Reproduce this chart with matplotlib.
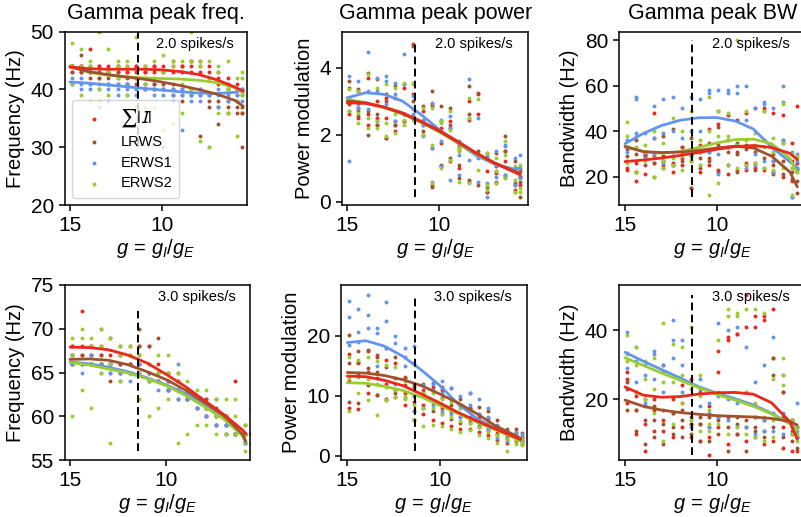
import numpy as np
import matplotlib
matplotlib.use('Agg')
import matplotlib.pyplot as plt

plt.rcParams['font.family'] = ['Liberation Sans', 'DejaVu Sans']
plt.rcParams['mathtext.fontset'] = 'custom'
plt.rcParams['mathtext.rm'] = 'Liberation Sans'
plt.rcParams['mathtext.it'] = 'Liberation Sans:italic'

series_names = [r'$\sum|I|$', 'LRWS', 'ERWS1', 'ERWS2']
colors = ['#e8291c', '#a0522d', '#6495ed', '#9acd32']

# g values of the scatter columns
g_cols = [14.9, 14.4, 13.9, 13.4, 12.9, 12.4, 11.9, 11.4, 10.9, 10.4,
          9.9, 9.4, 8.9, 8.4, 7.9, 7.4, 6.9, 6.4, 5.9, 5.6]

# ---- Gamma peak freq, 2.0 spikes/s ----
freq2_pts = [
    [[44, 44, 47, 44, 43, 44, 43, 44, 43, 44, 43, 45, 44, 45, 45, 44, 43, 42, 40, 36],
     [43, 44, 44, 43, 44, 43, 44, 43, 44, 43, 44, 44, 43, 44, 43, 43, 42, 41, 39, 40],
     [44, 43, 43, 44, 43, 44, 43, 44, 43, 44, 43, 43, 44, 43, 44, 42, 41, 40, 41, 39]],
    [[44, 46, 43, 42, 43, 42, 41, 42, 41, 41, 40, 40, 39, 45, 40, 38, 34, 38, 37, 30],
     [43, 44, 42, 43, 42, 41, 42, 41, 42, 40, 41, 39, 40, 39, 32, 39, 38, 37, 36, 36],
     [44, 43, 43, 42, 41, 43, 41, 42, 40, 41, 40, 41, 38, 40, 39, 37, 37, 36, 38, 37]],
    [[41, 41, 41, 37, 38, 40, 40, 40, 40, 40, 39, 38, 33, 39, 39, 30, 37, 39, 40, 38],
     [42, 42, 40, 41, 41, 41, 39, 40, 41, 39, 30, 40, 40, 39, 38, 39, 40, 40, 39, 40],
     [41, 40, 41, 40, 40, 39, 41, 39, 40, 40, 40, 39, 39, 38, 40, 39, 39, 38, 40, 40]],
    [[48, 47, 44, 50, 47, 45, 45, 49, 44, 45, 46, 45, 45, 50, 45, 45, 44, 45, 42, 43],
     [44, 44, 45, 40, 43, 42, 39, 42, 41, 42, 43, 34, 41, 40, 44, 42, 36, 40, 38, 42],
     [41, 39, 38, 38, 39, 44, 44, 37, 37, 37, 33, 44, 36, 45, 31, 30, 43, 36, 32, 39]],
]
freq2_fit = [
    [43.9, 43.6, 43.5, 43.5, 43.5, 43.4, 43.1, 42.6, 41.7, 40.4, 39.7],
    [43.9, 43.1, 42.6, 42.2, 41.8, 41.3, 40.7, 40.0, 39.2, 38.1, 37.1],
    [41.3, 41.1, 40.8, 40.5, 40.2, 39.9, 39.6, 39.4, 39.3, 39.5, 39.9],
    [44.1, 43.0, 42.5, 42.2, 42.0, 41.9, 41.8, 41.6, 41.2, 40.3, 39.4],
]

# ---- Gamma peak power, 2.0 spikes/s ----
power2_pts = [
    [[3.4, 3.3, 3.7, 3.0, 3.1, 2.3, 3.4, 4.7, 2.3, 2.9, 1.75, 2.4, 1.5, 3.0, 3.2, 1.3, 1.05, 1.5, 0.95, 0.9],
     [2.9, 2.8, 2.6, 2.5, 2.5, 3.1, 2.6, 2.55, 2.0, 1.6, 1.05, 2.2, 1.0, 2.45, 1.35, 0.3, 0.85, 1.2, 0.5, 0.75],
     [2.6, 2.5, 2.3, 2.3, 1.9, 2.1, 2.4, 3.2, 2.7, 0.5, 2.2, 1.2, 1.6, 0.6, 2.6, 0.9, 0.55, 0.8, 0.35, 0.5]],
    [[3.6, 3.35, 3.85, 3.65, 3.2, 3.45, 3.5, 4.65, 2.4, 3.3, 2.85, 2.8, 1.7, 3.45, 3.25, 1.45, 1.45, 1.95, 1.2, 0.75],
     [2.95, 2.7, 2.7, 2.6, 3.0, 2.4, 2.6, 2.5, 2.1, 2.85, 1.1, 2.3, 1.1, 2.6, 1.5, 0.45, 0.9, 1.5, 0.55, 0.15],
     [2.7, 2.55, 2.0, 2.3, 1.9, 2.3, 2.4, 3.0, 2.85, 0.45, 2.4, 1.3, 0.7, 0.65, 0.5, 0.3, 0.6, 0.75, 0.3, 0.6]],
    [[3.75, 3.6, 4.45, 3.7, 3.75, 3.55, 4.4, 3.15, 2.45, 2.95, 2.45, 2.55, 1.8, 3.65, 2.5, 1.35, 1.5, 1.65, 1.3, 1.4],
     [3.1, 2.9, 3.3, 3.3, 3.6, 3.2, 3.5, 2.75, 2.3, 1.6, 1.8, 2.2, 1.4, 2.5, 1.3, 0.55, 1.1, 1.7, 0.95, 1.0],
     [1.2, 2.8, 2.75, 2.4, 2.9, 2.4, 2.6, 2.6, 1.95, 0.6, 1.05, 0.65, 0.8, 1.25, 0.6, 0.15, 0.75, 0.8, 0.5, 0.7]],
    [[3.35, 3.3, 3.8, 3.4, 3.5, 3.4, 3.55, 3.55, 2.35, 2.8, 2.35, 2.7, 1.6, 3.1, 3.05, 1.45, 1.3, 1.8, 1.05, 1.1],
     [3.0, 2.65, 2.5, 2.4, 2.35, 2.6, 2.45, 2.45, 2.0, 1.7, 1.0, 2.15, 0.6, 2.5, 1.4, 0.5, 0.9, 1.4, 0.65, 0.4],
     [2.7, 2.35, 2.2, 2.2, 1.95, 2.05, 2.3, 3.5, 2.8, 0.55, 2.4, 1.25, 1.5, 0.55, 0.95, 0.35, 0.55, 0.7, 0.3, 0.3]],
]
power2_fit = [
    [2.95, 2.93, 2.82, 2.65, 2.4, 2.12, 1.8, 1.45, 1.15, 0.9, 0.8],
    [3.0, 2.95, 2.82, 2.63, 2.38, 2.1, 1.78, 1.45, 1.16, 0.93, 0.84],
    [3.1, 3.25, 3.2, 3.0, 2.6, 2.15, 1.75, 1.38, 1.12, 0.98, 1.0],
    [3.05, 2.95, 2.8, 2.62, 2.37, 2.08, 1.75, 1.42, 1.14, 0.93, 0.85],
]

# ---- Gamma peak BW, 2.0 spikes/s ----
bw2_pts = [
    [[27, 26, 30, 48, 29, 25, 33, 30, 31, 35, 49, 47, 45, 48, 50, 50, 48, 47, 35, 51],
     [24, 18, 29, 29, 27, 26, 28, 27, 34, 41, 43, 33, 31, 26, 26, 49, 27, 35, 27, 26],
     [23, 22, 21, 26, 25, 22, 25, 15, 22, 25, 23, 21, 23, 23, 24, 23, 22, 20, 18, 23]],
    [[33, 36, 30, 37, 38, 41, 33, 37, 31, 31, 42, 36, 35, 34, 33, 36, 30, 36, 22, 24],
     [32, 30, 29, 26, 27, 29, 31, 29, 28, 28, 34, 31, 30, 32, 31, 28, 25, 27, 19, 18],
     [29, 22, 25, 20, 24, 25, 27, 15, 24, 27, 22, 25, 22, 25, 23, 24, 21, 21, 11, 13]],
    [[36, 55, 39, 51, 54, 55, 50, 55, 54, 58, 58, 58, 60, 60, 50, 53, 50, 60, 31, 30],
     [33, 54, 31, 37, 39, 40, 37, 40, 40, 57, 30, 57, 57, 45, 30, 52, 27, 53, 24, 27],
     [31, 39, 28, 30, 26, 29, 30, 30, 25, 31, 21, 25, 34, 24, 25, 27, 22, 36, 11, 24]],
    [[44, 38, 34, 40, 35, 46, 40, 49, 36, 55, 49, 48, 80, 49, 39, 49, 37, 52, 30, 29],
     [38, 33, 31, 28, 27, 28, 29, 28, 31, 40, 38, 38, 34, 36, 34, 33, 31, 35, 24, 28],
     [26, 22, 27, 20, 24, 25, 23, 27, 25, 12, 17, 25, 24, 25, 26, 24, 23, 24, 12, 22]],
]
bw2_fit = [
    [26.6, 27.3, 28.2, 29.3, 30.6, 32.0, 33.2, 33.7, 32.8, 30.2, 27.5],
    [33.2, 31.0, 30.6, 30.8, 31.5, 32.6, 33.4, 32.6, 29.0, 22.0, 15.5],
    [34.5, 39.0, 42.5, 44.8, 45.9, 46.0, 44.5, 41.0, 33.0, 26.5, 24.0],
    [33.5, 31.0, 30.3, 31.0, 32.8, 34.8, 36.3, 36.5, 34.5, 28.0, 21.5],
]

# ---- Gamma peak freq, 3.0 spikes/s ----
freq3_pts = [
    [[68, 72, 68, 67, 69, 67, 68, 68, 68, 66, 65, 64, 63, 62, 62, 61, 60, 64, 59, 58],
     [67, 68, 68, 66, 67, 66, 66, 66, 65, 65, 64, 65, 62, 62, 61, 60, 59, 59, 58, 57],
     [68, 67, 67, 68, 66, 67, 66, 67, 66, 64, 63, 63, 63, 61, 60, 59, 60, 58, 58, 58]],
    [[67, 66, 67, 66, 64, 68, 66, 70, 68, 69, 65, 63, 63, 62, 62, 62, 60, 59, 58, 57],
     [66, 67, 66, 67, 66, 65, 67, 68, 64, 65, 64, 64, 62, 61, 60, 60, 59, 58, 57, 57],
     [66, 66, 66, 66, 65, 66, 65, 66, 65, 64, 63, 62, 62, 62, 61, 59, 58, 58, 58, 56]],
    [[66, 66, 67, 70, 66, 65, 65, 66, 65, 63, 64, 66, 63, 62, 61, 60, 59, 58, 57, 57],
     [66, 66, 66, 66, 66, 65, 65, 65, 64, 64, 63, 63, 62, 61, 61, 60, 59, 58, 58, 57],
     [67, 65, 66, 65, 65, 64, 64, 65, 64, 64, 63, 62, 62, 61, 60, 59, 58, 58, 57, 56]],
    [[69, 70, 69, 70, 69, 68, 68, 67, 66, 67, 67, 65, 64, 63, 63, 62, 62, 62, 59, 61],
     [67, 69, 68, 68, 66, 67, 67, 65, 64, 65, 65, 64, 63, 62, 61, 60, 60, 60, 58, 57],
     [60, 63, 61, 65, 57, 64, 65, 62, 60, 61, 62, 57, 58, 59, 59, 58, 58, 58, 56, 56]],
]
freq3_fit = [
    [67.9, 67.85, 67.6, 67.0, 66.1, 64.8, 63.4, 61.8, 60.2, 58.4, 58.0],
    [66.5, 66.55, 66.4, 65.9, 65.1, 64.2, 63.0, 61.6, 60.1, 57.9, 57.1],
    [66.2, 66.0, 65.6, 65.1, 64.4, 63.6, 62.6, 61.3, 59.9, 57.8, 57.0],
    [66.15, 65.85, 65.4, 64.95, 64.3, 63.5, 62.4, 61.1, 59.7, 57.7, 56.9],
]

# ---- Gamma peak power, 3.0 spikes/s ----
power3_pts = [
    [[17.0, 15.5, 17.5, 16.5, 16.0, 15.5, 13.0, 11.5, 11.0, 11.5, 11.0, 9.5, 8.5, 8.0, 6.5, 6.0, 5.0, 4.2, 3.8, 3.0],
     [12.5, 13.5, 14.0, 13.0, 12.0, 11.0, 10.5, 9.0, 8.5, 9.0, 8.0, 7.5, 6.5, 6.0, 5.0, 4.5, 3.8, 3.3, 3.0, 2.6],
     [8.0, 7.8, 10.5, 10.2, 9.5, 9.8, 8.5, 6.0, 7.0, 6.0, 5.5, 5.0, 4.5, 4.5, 4.0, 3.5, 2.6, 2.2, 2.4, 2.0]],
    [[20.2, 17.5, 17.7, 16.8, 18.0, 16.5, 13.2, 12.0, 12.0, 12.2, 11.5, 11.3, 9.5, 10.5, 8.2, 7.5, 6.0, 4.4, 4.5, 3.8],
     [15.5, 15.7, 14.6, 14.0, 14.8, 13.0, 11.8, 10.0, 10.5, 10.8, 9.7, 8.5, 8.5, 8.0, 7.0, 6.3, 5.0, 3.8, 3.6, 3.2],
     [9.0, 8.8, 11.8, 10.2, 9.3, 10.5, 9.7, 7.5, 8.0, 7.5, 7.0, 6.2, 5.5, 5.5, 4.8, 4.2, 3.4, 2.8, 2.8, 2.4]],
    [[25.8, 24.5, 26.8, 20.5, 25.7, 20.0, 18.0, 18.3, 11.8, 12.0, 12.4, 11.3, 10.0, 10.5, 9.5, 8.0, 5.2, 4.2, 4.0, 3.7],
     [23.2, 20.7, 23.5, 21.3, 22.5, 18.8, 16.5, 15.5, 10.2, 11.0, 10.5, 9.5, 8.0, 8.5, 7.0, 6.5, 4.5, 3.4, 3.5, 3.0],
     [18.5, 19.0, 21.3, 15.0, 18.0, 12.0, 15.0, 7.5, 8.0, 8.5, 7.5, 7.0, 6.5, 6.5, 5.5, 4.5, 3.0, 2.5, 2.8, 2.3]],
    [[16.5, 16.0, 16.5, 15.8, 15.2, 14.8, 12.5, 11.0, 10.5, 10.5, 9.5, 9.0, 8.0, 7.5, 6.0, 5.5, 4.5, 3.8, 3.5, 2.8],
     [13.0, 13.2, 12.8, 12.0, 11.5, 11.0, 10.0, 8.5, 8.0, 8.0, 7.0, 6.5, 5.8, 5.5, 4.8, 4.0, 3.5, 2.8, 2.6, 2.2],
     [7.5, 10.5, 9.3, 6.8, 9.3, 9.8, 9.5, 6.2, 5.0, 5.2, 5.0, 4.5, 4.0, 4.3, 3.5, 3.0, 2.2, 0.85, 2.0, 1.8]],
]
power3_fit = [
    [13.3, 13.2, 12.6, 11.7, 10.3, 8.8, 7.2, 5.8, 4.5, 3.2, 2.7],
    [13.9, 13.8, 13.4, 12.7, 11.7, 10.3, 8.8, 7.0, 5.0, 3.5, 2.9],
    [18.9, 19.2, 18.3, 16.6, 14.3, 11.7, 8.6, 6.2, 4.5, 3.1, 2.8],
    [12.2, 12.1, 11.6, 10.9, 9.8, 8.4, 7.0, 5.6, 4.3, 3.0, 2.5],
]

# ---- Gamma peak BW, 3.0 spikes/s ----
bw3_pts = [
    [[28, 21, 20, 20, 30, 20, 24, 26, 22, 18, 34, 38, 39, 50, 44, 44, 46, 22, 14, 12],
     [26, 10, 13, 17, 14, 16, 19, 9, 13, 9, 28, 37, 39, 41, 41, 43, 32, 12, 10, 9],
     [19, 17, 5, 11, 11, 9, 12, 13, 8, 4, 12, 7, 10, 8, 9, 7, 8, 6, 5, 5]],
    [[25, 22, 18, 18, 17, 16, 17, 15, 15, 15, 15, 15, 15, 14, 15, 14, 32, 22, 14, 12],
     [23, 17, 14, 14, 13, 12, 14, 13, 13, 12, 14, 12, 13, 12, 12, 11, 27, 15, 11, 9],
     [17, 11, 7, 9, 7, 10, 9, 10, 8, 8, 10, 5, 10, 5, 11, 9, 12, 9, 8, 6]],
    [[39.5, 35, 30, 34, 30, 43, 37, 16, 26, 19, 42, 40, 41, 35, 25, 30, 38, 27, 14, 19],
     [33.5, 31, 27, 33, 28, 37, 30, 14, 23, 16, 21, 20, 19, 22, 15, 14, 16, 16, 12, 11],
     [29, 25, 19, 26, 22, 32, 22, 12, 18, 12, 15, 14, 12, 12, 10, 11, 11, 10, 10, 9]],
    [[38.5, 35, 31, 32, 42, 36, 35, 41, 27, 17, 37, 46, 45, 46, 46, 45, 26, 32, 14, 12],
     [33, 30, 26, 23, 25, 25, 27, 23, 21, 13, 22, 44, 44, 22, 19, 15, 14, 27, 12, 10],
     [31, 22, 20, 16, 8, 13, 19, 14, 11, 11, 13, 10, 12, 10, 9, 8, 9, 24, 10, 8]],
]
bw3_fit = [
    [23.6, 21.2, 20.6, 20.8, 21.5, 21.9, 22.0, 21.5, 19.0, 13.5, 8.5],
    [19.8, 18.0, 16.9, 16.2, 15.7, 15.3, 15.1, 14.9, 14.5, 13.6, 12.6],
    [33.6, 31.0, 28.6, 26.2, 23.7, 21.8, 20.2, 18.4, 16.0, 13.0, 11.4],
    [32.0, 29.8, 27.6, 25.5, 23.4, 21.4, 19.8, 18.0, 15.8, 12.9, 11.2],
]

# g values where the fitted curves are read
fit_x = [
    [15, 14, 13, 12, 11, 10, 9, 8, 7, 6, 5.55],
    [15, 14, 13, 12, 11, 10, 9, 8, 7, 6, 5.6],
    [15, 14, 13, 12, 11, 10, 9, 8, 7, 6, 5.6],
    [15, 14, 13, 12, 11, 10, 9, 8, 7, 6, 5.85],
    [15, 14, 13, 12, 11, 10, 9, 8, 7, 6, 5.65],
    [15, 14, 13, 12, 11, 10, 9, 8, 7, 6, 5.6],
]

panel_pts = [freq2_pts, power2_pts, bw2_pts, freq3_pts, power3_pts, bw3_pts]
panel_fit = [freq2_fit, power2_fit, bw2_fit, freq3_fit, power3_fit, bw3_fit]
titles = ['Gamma peak freq.', 'Gamma peak power', 'Gamma peak BW']
ylabels = ['Frequency (Hz)', 'Power modulation', 'Bandwidth (Hz)'] * 2
rates = ['2.0 spikes/s'] * 3 + ['3.0 spikes/s'] * 3
ylims = [(20, 50), (-0.1, 5.07), (7.5, 83.8), (55, 75), (-0.7, 28.5), (2.5, 53)]
yticks = [[20, 30, 40, 50], [0, 2, 4], [20, 40, 60, 80],
          [55, 60, 65, 70, 75], [0, 10, 20], [20, 40]]
xlims = [(15.27, 5.36), (15.27, 5.16), (15.31, 5.18),
         (15.26, 5.63), (15.34, 5.32), (15.31, 5.18)]
g_marker = [11.31, 11.32, 11.33, 11.45, 11.35, 11.33]

W, H = 801, 517
fig = plt.figure(figsize=(W / 100, H / 100), dpi=100)

# axes boxes in pixels: left, right, top, bottom
boxes = [(65, 246.7, 31.7, 205), (342.3, 528.3, 31.7, 205), (619.3, 805, 31.7, 205),
         (65, 250, 285, 460), (341, 526.7, 285, 460), (619.3, 805, 285, 460)]

line_order = [2, 3, 1, 0]

for i in range(6):
    l, r, t, b = boxes[i]
    ax = fig.add_axes([l / W, 1 - b / H, (r - l) / W, (b - t) / H])
    pts = panel_pts[i]
    for k in range(4):
        for j, row in enumerate(pts[k]):
            ax.scatter(g_cols, row, s=8, color=colors[k], linewidths=0,
                       label=series_names[k] if j == 0 else None)
    for k in line_order:
        ax.plot(fit_x[i], panel_fit[i][k], color=colors[k], lw=2.0,
                solid_joinstyle='round', solid_capstyle='round')
    allv = np.array(pts).ravel()
    ax.vlines(g_marker[i], allv.min(), allv.max(), colors='k',
              linestyles=(0, (4, 2.2)), lw=1.4)
    ax.text(0.5, 0.93, rates[i], transform=ax.transAxes, ha='left',
            va='center', fontsize=10.5)
    ax.set_xlim(*xlims[i])
    ax.set_ylim(*ylims[i])
    ax.set_xticks([15, 10])
    ax.set_yticks(yticks[i])
    ax.tick_params(labelsize=15, width=1.1, length=4.5)
    for sp in ax.spines.values():
        sp.set_linewidth(1.1)
    ax.set_xlabel(r'$g\/=\/g_I/g_E$', fontsize=14.5, labelpad=1.5)
    ax.set_ylabel(ylabels[i], fontsize=14.5)
    if i < 3:
        ax.set_title(titles[i], fontsize=15.5, pad=9)
    if i == 0:
        leg = ax.legend(loc='lower left', fontsize=10.5, scatterpoints=1,
                        handletextpad=0.8, borderpad=0.5, labelspacing=0.45)
        t0 = leg.get_texts()[0]
        t0.set_math_fontfamily('stixsans')
        t0.set_fontsize(13)

fig.savefig('out.png', dpi=100)
